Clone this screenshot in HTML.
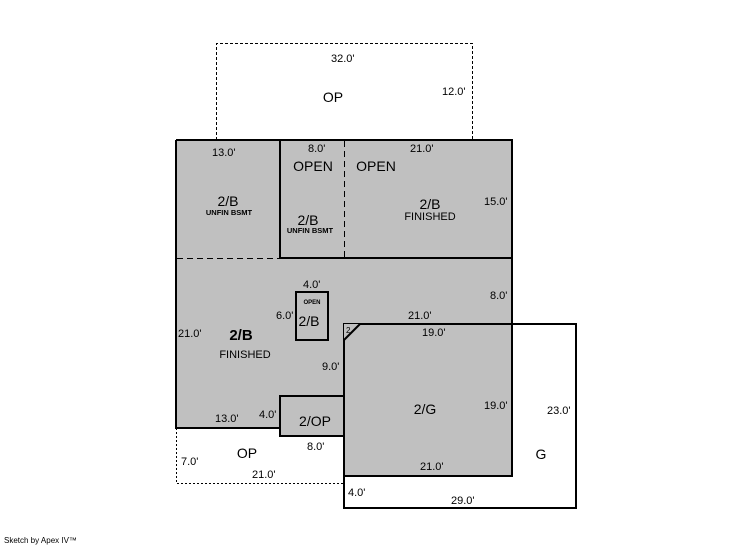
<!DOCTYPE html>
<html><head><style>
body{margin:0;background:#fff;}
svg{display:block;font-family:"Liberation Sans",Arial,sans-serif;}
</style></head><body>
<svg width="746" height="547" viewBox="0 0 746 547" xmlns="http://www.w3.org/2000/svg">
<path d="M216.5 140 V43.5 H472.5 V140" fill="none" stroke="#000" stroke-width="1" stroke-dasharray="3,2"/>
<path d="M176.5 428 V483.5 H344" fill="none" stroke="#000" stroke-width="1" stroke-dasharray="2,2"/>
<path d="M176 140 H512 V476 H344 V436 H280 V428 H176 Z" fill="#c0c0c0"/>
<rect x="344" y="324" width="232" height="184" fill="none" stroke="#000" stroke-width="2"/>
<path d="M176 140 H512 V476 M176 140 V428 H280" fill="none" stroke="#000" stroke-width="2"/>
<path d="M280 140 V258 H512" fill="none" stroke="#000" stroke-width="2"/>
<line x1="344.5" y1="141" x2="344.5" y2="258" stroke="#000" stroke-width="1" stroke-dasharray="6,4"/>
<line x1="177" y1="258.5" x2="280" y2="258.5" stroke="#000" stroke-width="1" stroke-dasharray="6,4"/>
<rect x="280" y="396" width="64" height="40" fill="none" stroke="#000" stroke-width="2"/>
<rect x="344" y="324" width="168" height="152" fill="none" stroke="#000" stroke-width="2"/>
<polygon points="344,324 360,324 344,340" fill="#c0c0c0"/>
<line x1="360" y1="324" x2="344" y2="340" stroke="#000" stroke-width="2"/>
<text x="346" y="333" font-size="8">2</text>
<rect x="296" y="292" width="32" height="48" fill="none" stroke="#000" stroke-width="2"/>
<g font-size="11" fill="#000">
<text x="331" y="62">32.0'</text>
<text x="442" y="95">12.0'</text>
<text x="212" y="156">13.0'</text>
<text x="308" y="152">8.0'</text>
<text x="410" y="152">21.0'</text>
<text x="484" y="205">15.0'</text>
<text x="303" y="288">4.0'</text>
<text x="490" y="299">8.0'</text>
<text x="276" y="319">6.0'</text>
<text x="408" y="319">21.0'</text>
<text x="178" y="337">21.0'</text>
<text x="422" y="336">19.0'</text>
<text x="322" y="370">9.0'</text>
<text x="484" y="409">19.0'</text>
<text x="547" y="414">23.0'</text>
<text x="215" y="422">13.0'</text>
<text x="259" y="418">4.0'</text>
<text x="307" y="450">8.0'</text>
<text x="181" y="465">7.0'</text>
<text x="252" y="478">21.0'</text>
<text x="420" y="470">21.0'</text>
<text x="348" y="496">4.0'</text>
<text x="451" y="504">29.0'</text>
</g>
<g font-size="14" text-anchor="middle">
<text x="333" y="102">OP</text>
<text x="313" y="171">OPEN</text>
<text x="376" y="171">OPEN</text>
<text x="228" y="206">2/B</text>
<text x="308" y="225">2/B</text>
<text x="430" y="209">2/B</text>
<text x="309" y="326">2/B</text>
<text x="425" y="414">2/G</text>
<text x="315" y="426">2/OP</text>
<text x="247" y="458">OP</text>
<text x="541" y="459">G</text>
<text x="241" y="340" font-weight="bold" font-size="15">2/B</text>
</g>
<g font-size="11" text-anchor="middle">
<text x="430" y="220">FINISHED</text>
<text x="245" y="358">FINISHED</text>
</g>
<g font-size="7.5" font-weight="bold" text-anchor="middle">
<text x="229" y="215">UNFIN BSMT</text>
<text x="310" y="233">UNFIN BSMT</text>
<text x="312" y="304" font-size="6">OPEN</text>
</g>
<text x="4" y="543" font-size="8">Sketch by Apex IV™</text>
</svg>
</body></html>
